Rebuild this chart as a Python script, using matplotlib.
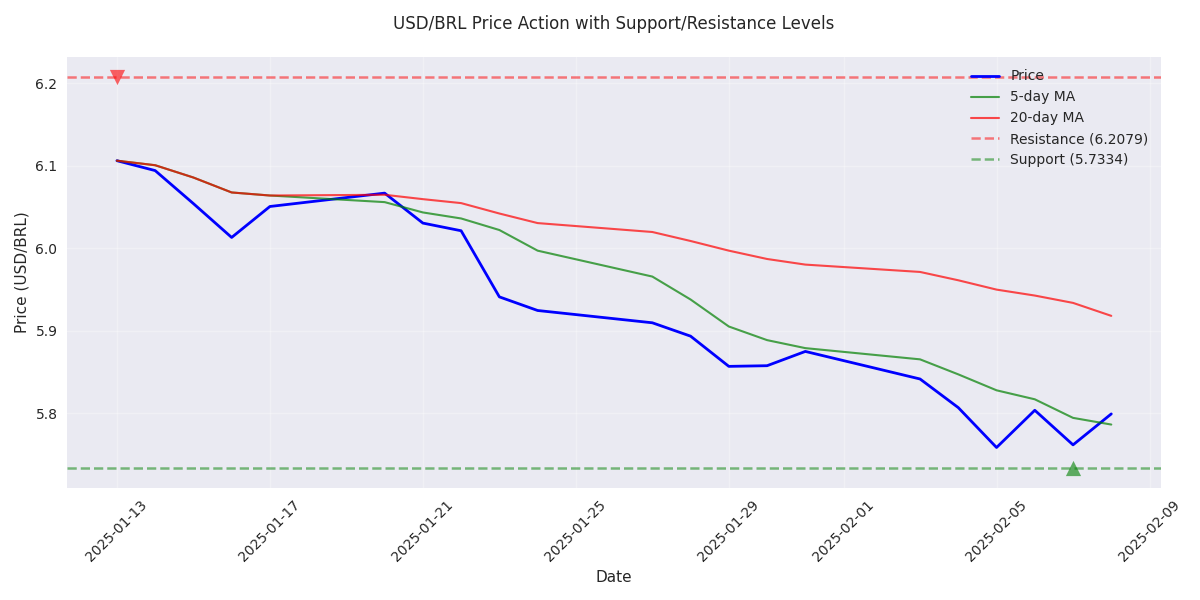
#!/usr/bin/env python3
"""
USD/BRL price with moving averages and support/resistance levels
"""
import pandas as pd
import matplotlib
matplotlib.use("Agg")
import matplotlib.pyplot as plt

# Trading dates
dates = pd.to_datetime([
    "2025-01-13", "2025-01-14", "2025-01-15", "2025-01-16", "2025-01-17",
    "2025-01-20", "2025-01-21", "2025-01-22", "2025-01-23", "2025-01-24",
    "2025-01-27", "2025-01-28", "2025-01-29", "2025-01-30", "2025-01-31",
    "2025-02-03", "2025-02-04", "2025-02-05", "2025-02-06", "2025-02-07",
    "2025-02-08",
])

price = [6.106, 6.094, 6.054, 6.013, 6.0505,
         6.0667, 6.0304, 6.0211, 5.941, 5.9245,
         5.9096, 5.8934, 5.8568, 5.8576, 5.8749,
         5.8415, 5.8068, 5.7585, 5.8036, 5.7617,
         5.7992]

ma5 = [6.106, 6.1005, 6.0856, 6.0675, 6.0638,
       6.0558, 6.0433, 6.036, 6.022, 5.997,
       5.9656, 5.9378, 5.9051, 5.8886, 5.8789,
       5.8653, 5.8471, 5.8278, 5.8169, 5.7944,
       5.7863]

ma20 = [6.106, 6.1005, 6.0856, 6.0675, 6.0638,
        6.0647, 6.0594, 6.0546, 6.042, 6.0304,
        6.0196, 6.0087, 5.997, 5.9869, 5.9801,
        5.9712, 5.9611, 5.9498, 5.9426, 5.9337,
        5.918]

resistance = 6.2079
support = 5.7334
resistance_date = pd.Timestamp("2025-01-13")
support_date = pd.Timestamp("2025-02-07")


def main():
    plt.style.use("seaborn-v0_8")
    plt.rcParams["font.family"] = ["DejaVu Sans"]

    fig, ax = plt.subplots(figsize=(12, 6), dpi=100)

    ax.plot(dates, price, color="blue", linewidth=2, label="Price")
    ax.plot(dates, ma5, color="green", linewidth=1.5, alpha=0.7, label="5-day MA")
    ax.plot(dates, ma20, color="red", linewidth=1.5, alpha=0.7, label="20-day MA")

    ax.axhline(resistance, color="red", linestyle="--", linewidth=1.8, alpha=0.5,
               label=f"Resistance ({resistance:.4f})")
    ax.axhline(support, color="green", linestyle="--", linewidth=1.8, alpha=0.5,
               label=f"Support ({support:.4f})")

    ax.scatter([resistance_date], [resistance], marker="v", color="red",
               s=120, alpha=0.6, linewidths=0, zorder=5)
    ax.scatter([support_date], [support], marker="^", color="green",
               s=120, alpha=0.6, linewidths=0, zorder=5)

    ax.set_title("USD/BRL Price Action with Support/Resistance Levels", fontsize=12, pad=20)
    ax.set_xlabel("Date", fontsize=11)
    ax.set_ylabel("Price (USD/BRL)", fontsize=11)
    ax.legend(loc="upper right", fontsize=10, frameon=False)
    ax.grid(True, alpha=0.3)
    ax.tick_params(axis="both", labelsize=10, pad=7)
    plt.setp(ax.get_xticklabels(), rotation=45)

    fig.subplots_adjust(left=0.056, right=0.9675, top=0.905, bottom=0.187)
    plt.savefig("out.png", dpi=100)
    plt.close()


if __name__ == "__main__":
    main()
